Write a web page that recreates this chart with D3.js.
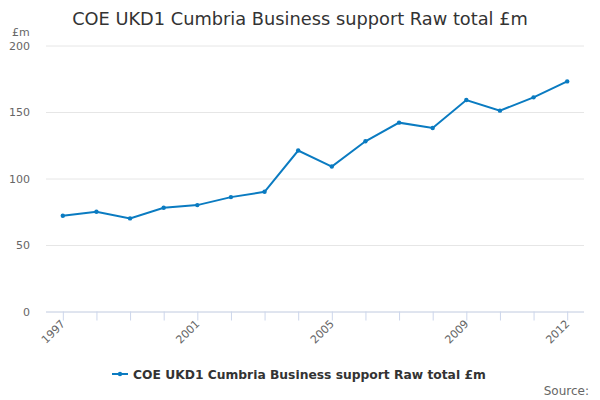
<!DOCTYPE html>
<html>
<head>
<meta charset="utf-8">
<script src="https://cdn.jsdelivr.net/npm/d3@7"></script>
<style>
	body { margin: 0; background: #fff; }
	svg { font-family: "DejaVu Sans", sans-serif; }
	.grid line { stroke: #e6e6e6; }
	.grid path { display: none; }
</style>
</head>
<body>
<svg id="chart" width="600" height="400"></svg>
<script>
'use strict';

var years = ['1997', '1998', '1999', '2000', '2001', '2002', '2003', '2004',
	'2005', '2006', '2007', '2008', '2009', '2010', '2011', '2012'];
var totals = [72, 75, 70, 78, 80, 86, 90, 121, 109, 128, 142, 138, 159, 151, 161, 173];
var yTicks = [0, 50, 100, 150, 200];
var xLabels = ['1997', '2001', '2005', '2009', '2012'];
var seriesName = 'COE UKD1 Cumbria Business support Raw total £m';

var createChart = function() {
	var svg = d3.select('#chart'),
		margin = { top: 45.5, right: 16, bottom: 88.5, left: 46 },
		width = 600 - margin.left - margin.right,
		height = 400 - margin.top - margin.bottom,
		lineColor = '#0a7bc1';

	var xScale = d3.scalePoint()
		.domain(years)
		.range([0, width])
		.padding(0.5);

	var yScale = d3.scaleLinear()
		.domain([0, 200])
		.range([height, 0]);

	var g = svg.append('g')
		.attr('transform', 'translate(' + margin.left + ',' + margin.top + ')');

	// gridlines
	g.append('g')
		.attr('class', 'grid')
		.call(d3.axisLeft(yScale).tickValues(yTicks).tickSize(-width).tickFormat(''));

	// y labels
	g.selectAll('.y-label')
		.data(yTicks)
		.enter()
		.append('text')
		.attr('x', -16)
		.attr('y', function(d) { return yScale(d) + 4; })
		.attr('text-anchor', 'end')
		.attr('font-size', 11)
		.attr('fill', '#666')
		.text(function(d) { return d; });

	svg.append('text')
		.attr('x', 12)
		.attr('y', 36)
		.attr('font-size', 11)
		.attr('fill', '#666')
		.text('£m');

	// x axis
	var xAxis = g.append('g')
		.attr('transform', 'translate(0,' + height + ')')
		.call(d3.axisBottom(xScale).tickSizeOuter(0).tickSize(9).tickFormat(''));
	xAxis.select('.domain')
		.attr('d', 'M0,0.5H' + width)
		.attr('stroke', '#ccd6eb');
	xAxis.selectAll('.tick line').attr('stroke', '#ccd6eb');

	g.selectAll('.x-label')
		.data(xLabels)
		.enter()
		.append('text')
		.attr('text-anchor', 'end')
		.attr('font-size', 11)
		.attr('fill', '#666')
		.attr('transform', function(d) {
			return 'translate(' + (xScale(d) + 3) + ',' + (height + 13) + ') rotate(-45)';
		})
		.text(function(d) { return d; });

	// line
	var line = d3.line()
		.x(function(d, i) { return xScale(years[i]); })
		.y(function(d) { return yScale(d); });

	g.append('path')
		.datum(totals)
		.attr('fill', 'none')
		.attr('stroke', lineColor)
		.attr('stroke-width', 2)
		.attr('d', line);

	g.selectAll('.dot')
		.data(totals)
		.enter()
		.append('circle')
		.attr('cx', function(d, i) { return xScale(years[i]); })
		.attr('cy', function(d) { return yScale(d); })
		.attr('r', 2.2)
		.attr('fill', lineColor);

	// title
	svg.append('text')
		.attr('x', 300)
		.attr('y', 25)
		.attr('text-anchor', 'middle')
		.attr('font-size', 17.8)
		.attr('fill', '#333')
		.text(seriesName);

	// legend
	var legend = svg.append('g')
		.attr('transform', 'translate(112,374)');
	legend.append('line')
		.attr('x1', 0).attr('x2', 16)
		.attr('stroke', lineColor)
		.attr('stroke-width', 2);
	legend.append('circle')
		.attr('cx', 8)
		.attr('r', 2.2)
		.attr('fill', lineColor);
	legend.append('text')
		.attr('x', 21)
		.attr('y', 4.5)
		.attr('font-size', 12.3)
		.attr('font-weight', 'bold')
		.attr('fill', '#333')
		.text(seriesName);

	// credits
	svg.append('text')
		.attr('x', 589)
		.attr('y', 395)
		.attr('text-anchor', 'end')
		.attr('font-size', 12)
		.attr('fill', '#666')
		.text('Source:');
};

createChart();
</script>
</body>
</html>
